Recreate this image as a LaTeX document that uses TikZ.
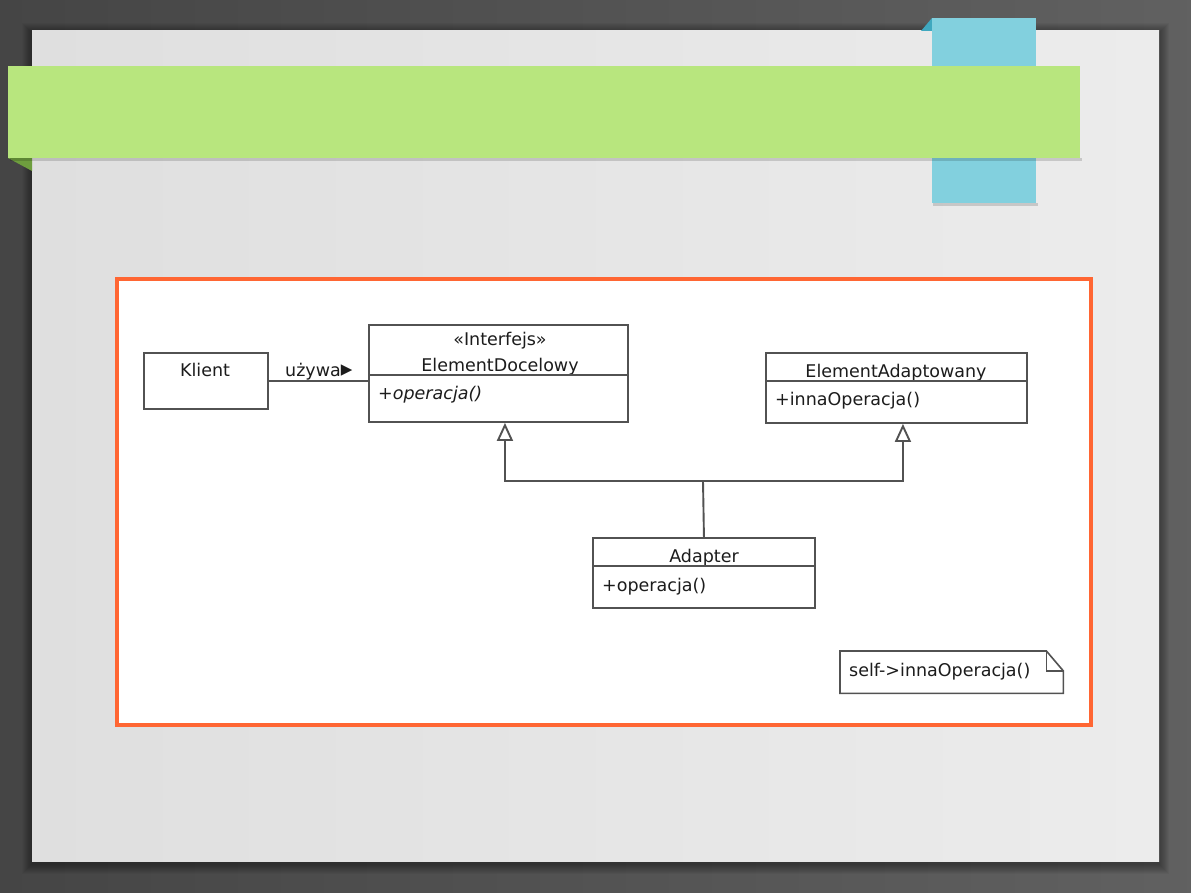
\documentclass[tikz,border=0pt]{standalone}
\usepackage{fontspec}
\setmainfont{DejaVu Sans}
\usetikzlibrary{arrows.meta,calc,positioning}
\definecolor{backdrop}{HTML}{4B4B4B}
\definecolor{slideA}{HTML}{DFDFDF}
\definecolor{slideB}{HTML}{ECECEC}
\definecolor{ribbon}{HTML}{B8E67E}
\definecolor{ribbonfold}{HTML}{6E9E3E}
\definecolor{tab}{HTML}{82D0DE}
\definecolor{tabfold}{HTML}{3FA8BF}
\definecolor{frame}{HTML}{FF6633}
\definecolor{umlgray}{HTML}{525252}
\definecolor{ink}{HTML}{1C1C1C}
\tikzset{
  umlbox/.style={draw=umlgray, line width=1.9pt, fill=white, inner sep=0pt, anchor=north west},
  umlline/.style={draw=umlgray, line width=1.9pt},
  umltext/.style={inner sep=0pt, text=ink, font=\fontsize{17.5}{21}\selectfont},
  generalize/.style={umlline, -{Triangle[open, fill=white, length=18pt, width=16pt]}}
}

\begin{document}
\begin{tikzpicture}[x=1pt, y=-1pt]
  \useasboundingbox (0,0) rectangle (1191,893);
  \shade[left color=backdrop!92!black, right color=backdrop!88!white] (0,0) rectangle (1191,893);
  \foreach \i in {1,...,10}
    \fill[black, opacity=0.04] (32-\i, 33-\i) rectangle (1159+\i, 864+\i);
  \shade[left color=slideA, right color=slideB] (32,31) rectangle (1159,861);

  \fill[tabfold] (921,31) -- (932,18) -- (932,31) -- cycle;
  \fill[black, opacity=0.15] (933,203) rectangle (1038,206);
  \fill[tab] (932,18) rectangle (1036,203);
  \fill[ribbonfold] (8,158) -- (32,158) -- (32,171) -- cycle;
  \fill[black, opacity=0.15] (10,158) rectangle (1082,161);
  \fill[ribbon] (8,66) rectangle (1080,158);

  \draw[frame, line width=3.5pt, fill=white] (117,279) rectangle (1091,725);

  \node[umlbox, minimum width=124pt, minimum height=56pt] (klient) at (143,352) {};
  \node[umltext, anchor=base] (klientName) at (205,376) {Klient};

  \node[umlbox, minimum width=259pt, minimum height=97pt] (docelowy) at (368,324) {};
  \node[umltext, anchor=base] (docelowyStereo) at (500,345) {«Interfejs»};
  \node[umltext, anchor=base] (docelowyName) at (500,371) {ElementDocelowy};
  \draw[umlline] ($(docelowy.north west)+(0,51)$) -- ($(docelowy.north east)+(0,51)$);
  \node[umltext, anchor=base west] (docelowyOp) at (378,399) {\itshape +operacja()};

  \node[umlbox, minimum width=261pt, minimum height=70pt] (adaptowany) at (765,352) {};
  \node[umltext, anchor=base] (adaptowanyName) at (896,377) {ElementAdaptowany};
  \draw[umlline] ($(adaptowany.north west)+(0,29)$) -- ($(adaptowany.north east)+(0,29)$);
  \node[umltext, anchor=base west] (adaptowanyOp) at (775,405) {+innaOperacja()};

  \node[umlbox, minimum width=222pt, minimum height=70pt] (adapter) at (592,537) {};
  \node[umltext, anchor=base] (adapterName) at (704,562) {Adapter};
  \draw[umlline] ($(adapter.north west)+(0,29)$) -- ($(adapter.north east)+(0,29)$);
  \node[umltext, anchor=base west] (adapterOp) at (602,591) {+operacja()};

  \draw[umlline] (klient) -- (docelowy.west |- klient);
  \node[umltext, anchor=base west] (uzywa) at (285,376) {używa{\fontsize{23}{23}\selectfont ▸}};

  \coordinate (fork) at (703,481);
  \draw[umlline] (adapter.north) -- (fork);
  \draw[generalize] (fork) -| ($(docelowy.south)+(6.5,0)$);
  \draw[generalize] (fork) -| ($(adaptowany.south)+(6.5,0)$);

  \node[minimum width=223pt, minimum height=42pt, inner sep=0pt, anchor=north west] (note) at (840,651) {};
  \draw[umlline, line width=1.6pt, fill=white] (note.north west) -- ($(note.north east)+(-17,0)$) -- ($(note.north east)+(0,20)$) -- (note.south east) -- (note.south west) -- cycle;
  \draw[umlline, line width=1.6pt] ($(note.north east)+(-17,0)$) -- ($(note.north east)+(-17,20)$) -- ($(note.north east)+(0,20)$);
  \node[umltext, anchor=base west] (noteText) at (849,676) {self->innaOperacja()};
\end{tikzpicture}
\end{document}
